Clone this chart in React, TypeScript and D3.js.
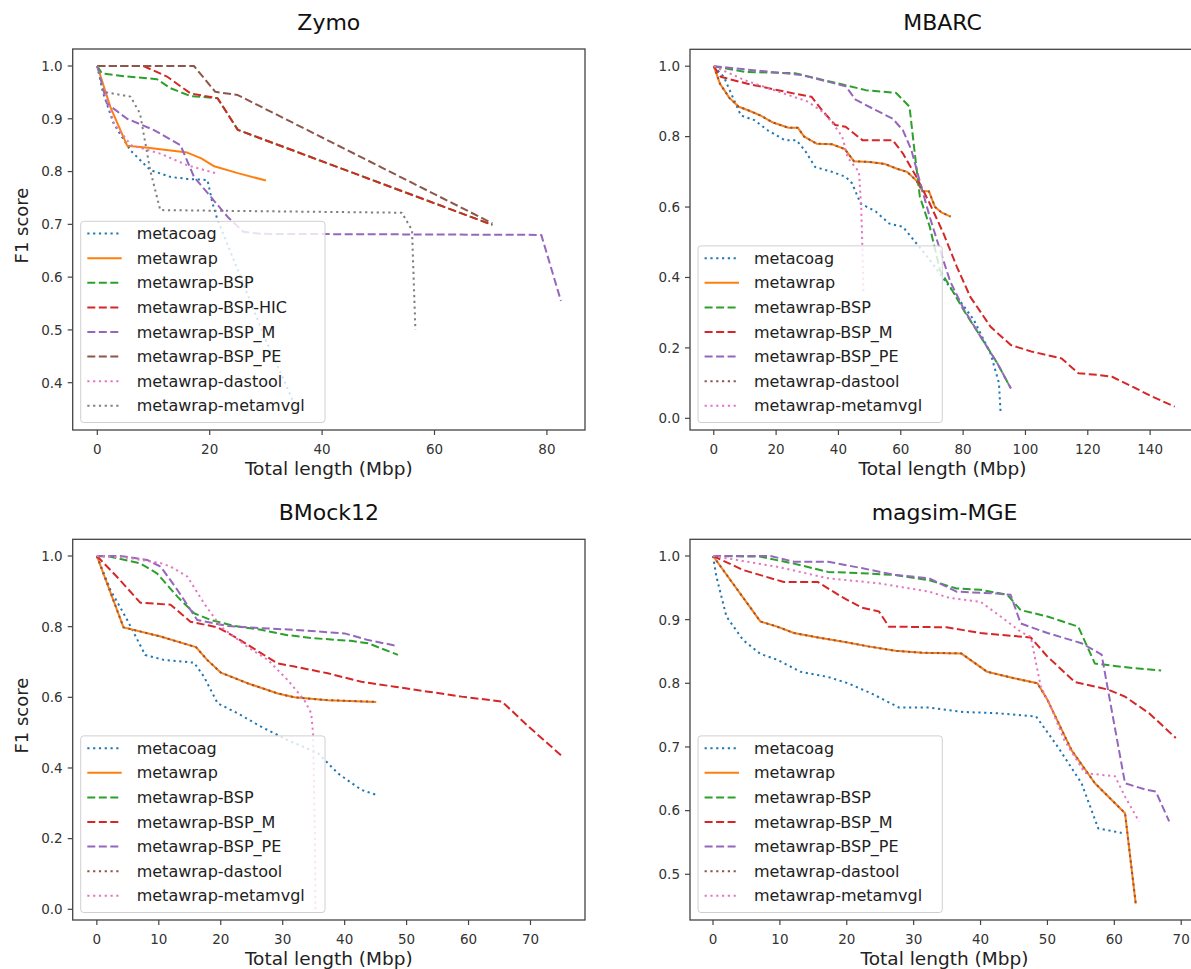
import * as d3 from "d3";

type Pt = [number, number];

// legend order of the runs
const zymoNames = [
  "metacoag",
  "metawrap",
  "metawrap-BSP",
  "metawrap-BSP-HIC",
  "metawrap-BSP_M",
  "metawrap-BSP_PE",
  "metawrap-dastool",
  "metawrap-metamvgl",
];
const otherNames = [
  "metacoag",
  "metawrap",
  "metawrap-BSP",
  "metawrap-BSP_M",
  "metawrap-BSP_PE",
  "metawrap-dastool",
  "metawrap-metamvgl",
];

// ---- Zymo ----
const zymoMetacoag: Pt[] = [[0, 1], [1, 0.95], [2.9, 0.891], [5.9, 0.84], [9.4, 0.803], [13, 0.79], [16, 0.786], [19.6, 0.784], [20.5, 0.74], [21.4, 0.708], [22.6, 0.677], [24, 0.64], [27, 0.56], [30, 0.48], [33, 0.41], [35, 0.36]];
const zymoMetawrap: Pt[] = [[0, 1], [2.3, 0.923], [5.3, 0.849], [9, 0.845], [16, 0.836], [18.5, 0.825], [20.8, 0.81], [25, 0.797], [30, 0.783]];
const zymoBSP: Pt[] = [[0, 1], [0.8, 0.986], [5.3, 0.98], [10.6, 0.975], [13, 0.958], [16.6, 0.943], [21.4, 0.939], [25, 0.879], [70.3, 0.699]];
const zymoBSPHIC: Pt[] = [[0, 1], [8.2, 1], [12.4, 0.98], [16.6, 0.948], [21.4, 0.939], [25, 0.879], [70.3, 0.699]];
const zymoBSPM: Pt[] = [[0, 1], [1.7, 0.929], [5.3, 0.9], [10, 0.879], [14.8, 0.85], [17.2, 0.79], [20.2, 0.752], [23.2, 0.714], [26, 0.686], [29, 0.682], [79, 0.68], [82.5, 0.555]];
const zymoBSPPE: Pt[] = [[0, 1], [17.2, 1], [21, 0.951], [25, 0.945], [70.3, 0.702]];
const zymoDastool: Pt[] = [[0, 1], [3, 0.89], [6, 0.85], [11.2, 0.834], [16, 0.812], [21, 0.797]];
const zymoMetamvgl: Pt[] = [[0, 1], [1.1, 0.951], [5.9, 0.942], [7.6, 0.91], [9.4, 0.803], [11.2, 0.727], [54.2, 0.722], [56, 0.689], [56.6, 0.5]];

// ---- MBARC ----
const mbarcMetacoag: Pt[] = [[0, 1], [3.2, 0.97], [8.7, 0.86], [13, 0.847], [17.3, 0.818], [22.8, 0.79], [26.5, 0.79], [29.3, 0.76], [32.5, 0.714], [37.9, 0.7], [42.3, 0.686], [44.4, 0.667], [47.1, 0.61], [52, 0.587], [56.3, 0.553], [60.7, 0.544], [65, 0.497], [69.3, 0.45], [73.7, 0.397], [78, 0.345], [83.4, 0.28], [88.8, 0.184], [91.5, 0.1], [92, 0.02]];
const mbarcMetawrap: Pt[] = [[0, 1], [2, 0.95], [5, 0.91], [8, 0.885], [11, 0.875], [15, 0.86], [19, 0.84], [24, 0.825], [27, 0.825], [29, 0.8], [33, 0.78], [38, 0.778], [42, 0.765], [45, 0.73], [50, 0.728], [55, 0.722], [59, 0.708], [62, 0.7], [65, 0.675], [67, 0.645], [69, 0.645], [71, 0.6], [73, 0.585], [76, 0.573]];
const mbarcBSP: Pt[] = [[0, 1], [9.8, 0.984], [26, 0.98], [42.3, 0.946], [48.8, 0.932], [58.5, 0.924], [62.8, 0.885], [64.5, 0.752], [66.1, 0.63], [69.3, 0.544], [72.6, 0.42], [75.8, 0.374], [80.2, 0.307], [85.6, 0.232], [91, 0.156], [95.3, 0.085]];
const mbarcBSPM: Pt[] = [[0, 1], [2.2, 0.97], [10.8, 0.95], [26, 0.922], [31.4, 0.913], [34.7, 0.875], [39, 0.833], [42.3, 0.828], [47.7, 0.79], [57.4, 0.79], [60.7, 0.752], [65, 0.686], [69.3, 0.61], [73.7, 0.525], [78, 0.43], [82.3, 0.345], [88.8, 0.26], [95.3, 0.208], [101.8, 0.19], [111.6, 0.17], [117, 0.128], [123.5, 0.123], [127.8, 0.118], [134.3, 0.09], [140.8, 0.061], [147.9, 0.033]];
const mbarcBSPPE: Pt[] = [[0, 1], [28.2, 0.975], [42.3, 0.943], [45.5, 0.905], [52, 0.875], [57.4, 0.851], [60.7, 0.818], [63.4, 0.762], [66, 0.676], [69.3, 0.572], [72.6, 0.478], [75.8, 0.39], [80.2, 0.31], [85.6, 0.232], [91, 0.156], [95.3, 0.085]];
const mbarcDastool: Pt[] = mbarcMetawrap;
const mbarcMetamvgl: Pt[] = [[0, 1], [10, 0.96], [20, 0.93], [30, 0.9], [35, 0.87], [38, 0.84], [41.2, 0.8], [43, 0.74], [46.6, 0.7], [47.3, 0.6], [47.7, 0.48], [48, 0.36]];

// ---- BMock12 ----
const bmockMetacoag: Pt[] = [[0, 1], [2.2, 0.904], [4.9, 0.819], [7.8, 0.72], [10.8, 0.706], [15.7, 0.698], [17.3, 0.658], [19.5, 0.583], [22.7, 0.555], [26.5, 0.517], [30.8, 0.479], [35.7, 0.442], [38.9, 0.385], [42.7, 0.338], [45.1, 0.324]];
const bmockMetawrap: Pt[] = [[0, 1], [4.3, 0.798], [10.3, 0.772], [16, 0.742], [17.8, 0.706], [20, 0.67], [24.3, 0.64], [29.2, 0.611], [31.9, 0.6], [37.3, 0.592], [45.1, 0.587]];
const bmockBSP: Pt[] = [[0, 1], [2.2, 0.998], [7, 0.979], [9.7, 0.951], [13, 0.885], [15.7, 0.838], [18.4, 0.819], [22.2, 0.802], [26.5, 0.791], [30.8, 0.776], [35.1, 0.767], [41, 0.76], [43.8, 0.753], [48.6, 0.72]];
const bmockBSPM: Pt[] = [[0, 1], [3.2, 0.942], [7, 0.868], [11.9, 0.862], [15.1, 0.814], [19.5, 0.798], [22.7, 0.767], [26.5, 0.725], [29.2, 0.696], [31.9, 0.687], [37.3, 0.668], [42.7, 0.644], [48.1, 0.63], [53.5, 0.616], [58.9, 0.602], [65.4, 0.588], [69.7, 0.517], [75, 0.435]];
const bmockBSPPE: Pt[] = [[0, 1], [3.8, 1], [8.1, 0.989], [10.3, 0.97], [13, 0.904], [16.2, 0.819], [21.1, 0.802], [24.3, 0.798], [31.9, 0.791], [40, 0.781], [43.8, 0.762], [48.6, 0.745]];
const bmockDastool: Pt[] = bmockMetawrap;
const bmockMetamvgl: Pt[] = [[0, 1], [5, 0.995], [10.3, 0.98], [11.9, 0.97], [14.6, 0.942], [17.3, 0.866], [20, 0.8], [24.3, 0.743], [27.6, 0.706], [30.8, 0.649], [33.5, 0.592], [34.6, 0.555], [34.9, 0.498], [35.2, 0.2], [35.3, 0.0]];

// ---- magsim-MGE ----
const magMetacoag: Pt[] = [[0, 1], [0.5, 0.968], [2, 0.905], [4.5, 0.868], [7.1, 0.846], [9.6, 0.837], [13.1, 0.818], [17.2, 0.81], [20.2, 0.8], [23.7, 0.784], [27.8, 0.762], [32.3, 0.762], [37.4, 0.755], [42.4, 0.753], [48.3, 0.748], [51.5, 0.701], [55.1, 0.643], [57.6, 0.572], [61.1, 0.565]];
const magMetawrap: Pt[] = [[0, 1], [7.1, 0.897], [9.6, 0.889], [12.1, 0.879], [15.7, 0.872], [19.7, 0.865], [23.2, 0.858], [27.3, 0.851], [31.3, 0.848], [37.1, 0.847], [41, 0.818], [45, 0.808], [48.5, 0.8], [50, 0.774], [53.6, 0.695], [57.1, 0.643], [61.6, 0.596], [63.2, 0.454]];
const magBSP: Pt[] = [[0, 1], [7, 0.999], [12.1, 0.988], [17.2, 0.975], [22.2, 0.973], [27.3, 0.97], [32.3, 0.962], [36.4, 0.949], [40, 0.947], [44, 0.939], [46, 0.915], [50, 0.905], [54.6, 0.889], [57.1, 0.831], [62.7, 0.824], [67, 0.82]];
const magBSPM: Pt[] = [[0, 1], [4.5, 0.978], [10.6, 0.959], [15.7, 0.959], [19.2, 0.936], [22.2, 0.919], [24.8, 0.913], [26.3, 0.889], [34.9, 0.888], [40, 0.879], [47.5, 0.872], [50, 0.842], [54.1, 0.802], [59.1, 0.79], [61.6, 0.779], [65.2, 0.753], [69.2, 0.714]];
const magBSPPE: Pt[] = [[0, 1], [8.6, 1], [12.1, 0.991], [17.2, 0.991], [22.2, 0.981], [27.3, 0.97], [32.3, 0.965], [36.4, 0.944], [42.4, 0.941], [44.5, 0.939], [46, 0.894], [50, 0.879], [55.1, 0.863], [58.1, 0.845], [59.6, 0.758], [61.6, 0.643], [64.7, 0.633], [66.2, 0.63], [68.2, 0.583]];
const magDastool: Pt[] = magMetawrap;
const magMetamvgl: Pt[] = [[0, 1], [9.6, 0.983], [17.2, 0.965], [24.8, 0.957], [32.3, 0.944], [35.4, 0.934], [40, 0.928], [43, 0.905], [46, 0.881], [47.5, 0.873], [49, 0.795], [50.5, 0.763], [52.5, 0.711], [55.6, 0.659], [60.1, 0.654], [61.6, 0.622], [63.7, 0.583]];

// tick values
const xTicksZymo = [0, 20, 40, 60, 80];
const xTicksMbarc = [0, 20, 40, 60, 80, 100, 120, 140];
const xTicksTen = [0, 10, 20, 30, 40, 50, 60, 70];
const yTicksZymo = [0.4, 0.5, 0.6, 0.7, 0.8, 0.9, 1.0];
const yTicksFull = [0.0, 0.2, 0.4, 0.6, 0.8, 1.0];
const yTicksMag = [0.5, 0.6, 0.7, 0.8, 0.9, 1.0];

const tab10 = ["#1f77b4", "#ff7f0e", "#2ca02c", "#d62728", "#9467bd", "#8c564b", "#e377c2", "#7f7f7f"];

const dashFor = (name: string) => {
  if (name === "metawrap") return undefined;
  if (name.includes("BSP")) return "8,3.5";
  return "2.2,3.6";
};

const panels = [
  {
    title: "Zymo",
    box: { left: 72.7, right: 585, top: 49, bottom: 430 },
    xDomain: [-4.38, 86.78],
    yDomain: [0.3104, 1.0322],
    xTicks: xTicksZymo,
    yTicks: yTicksZymo,
    names: zymoNames,
    data: [zymoMetacoag, zymoMetawrap, zymoBSP, zymoBSPHIC, zymoBSPM, zymoBSPPE, zymoDastool, zymoMetamvgl],
    yLabel: true,
  },
  {
    title: "MBARC",
    box: { left: 690, right: 1195, top: 49.3, bottom: 430 },
    xDomain: [-7.63, 154.4],
    yDomain: [-0.0332, 1.048],
    xTicks: xTicksMbarc,
    yTicks: yTicksFull,
    names: otherNames,
    data: [mbarcMetacoag, mbarcMetawrap, mbarcBSP, mbarcBSPM, mbarcBSPPE, mbarcDastool, mbarcMetamvgl],
    yLabel: false,
  },
  {
    title: "BMock12",
    box: { left: 72.7, right: 585, top: 539.3, bottom: 920 },
    xDomain: [-3.9, 78.8],
    yDomain: [-0.0303, 1.0473],
    xTicks: xTicksTen,
    yTicks: yTicksFull,
    names: otherNames,
    data: [bmockMetacoag, bmockMetawrap, bmockBSP, bmockBSPM, bmockBSPPE, bmockDastool, bmockMetamvgl],
    yLabel: true,
  },
  {
    title: "magsim-MGE",
    box: { left: 690, right: 1199, top: 539.3, bottom: 920 },
    xDomain: [-3.44, 72.66],
    yDomain: [0.4282, 1.0262],
    xTicks: xTicksTen,
    yTicks: yTicksMag,
    names: otherNames,
    data: [magMetacoag, magMetawrap, magBSP, magBSPM, magBSPPE, magDastool, magMetamvgl],
    yLabel: false,
  },
];

const fmt = d3.format(".1f");

function Panel({ p }: { p: (typeof panels)[number] }) {
  const { left, right, top, bottom } = p.box;
  const x = d3.scaleLinear().domain(p.xDomain).range([left, right]);
  const y = d3.scaleLinear().domain(p.yDomain).range([bottom, top]);
  const line = d3
    .line<Pt>()
    .x((d) => x(d[0]))
    .y((d) => y(d[1]));

  const rowH = 24.6;
  const legH = 12.3 + (p.names.length - 1) * rowH + 16.7;
  const legX = left + 8;
  const legY = bottom - 7.5 - legH;
  const cx = (left + right) / 2;

  return (
    <g>
      <text x={cx} y={top - 19} textAnchor="middle" fontSize={22} fill="#111">
        {p.title}
      </text>
      {p.data.map((pts, i) => (
        <path
          key={p.names[i]}
          d={line(pts) || ""}
          fill="none"
          stroke={tab10[i]}
          strokeWidth={2}
          strokeDasharray={dashFor(p.names[i])}
          strokeLinejoin="round"
        />
      ))}
      <rect x={left} y={top} width={right - left} height={bottom - top} fill="none" stroke="#444" strokeWidth={1.3} />
      {p.xTicks.map((t) => (
        <g key={"x" + t}>
          <line x1={x(t)} x2={x(t)} y1={bottom} y2={bottom + 5} stroke="#444" strokeWidth={1.2} />
          <text x={x(t)} y={bottom + 24} textAnchor="middle" fontSize={13.5} fill="#333">
            {t}
          </text>
        </g>
      ))}
      {p.yTicks.map((t) => (
        <g key={"y" + t}>
          <line x1={left - 5} x2={left} y1={y(t)} y2={y(t)} stroke="#444" strokeWidth={1.2} />
          <text x={left - 10} y={y(t)} dy="0.36em" textAnchor="end" fontSize={13.5} fill="#333">
            {fmt(t)}
          </text>
        </g>
      ))}
      <text x={cx} y={bottom + 45} textAnchor="middle" fontSize={18.5} fill="#222">
        Total length (Mbp)
      </text>
      {p.yLabel && (
        <text
          transform={`translate(${left - 45},${(top + bottom) / 2 - 14}) rotate(-90)`}
          textAnchor="middle"
          fontSize={18}
          fill="#222"
        >
          F1 score
        </text>
      )}
      <g>
        <rect x={legX} y={legY} width={244.3} height={legH} rx={3} fill="white" fillOpacity={0.8} stroke="#d0d0d0" strokeWidth={1} />
        {p.names.map((n, i) => {
          const ry = legY + 12.3 + i * rowH;
          return (
            <g key={"l" + n}>
              <line x1={legX + 6.6} x2={legX + 41} y1={ry} y2={ry} stroke={tab10[i]} strokeWidth={2} strokeDasharray={dashFor(n)} />
              <text x={legX + 56} y={ry} dy="0.35em" fontSize={16} fill="#222">
                {n}
              </text>
            </g>
          );
        })}
      </g>
    </g>
  );
}

export default function App() {
  return (
    <div style={{ position: "absolute", left: 0, top: 0 }}>
      <svg width={1191} height={969} style={{ display: "block", fontFamily: "DejaVu Sans, sans-serif", background: "white" }}>
        {panels.map((p) => (
          <Panel key={p.title} p={p} />
        ))}
      </svg>
    </div>
  );
}
